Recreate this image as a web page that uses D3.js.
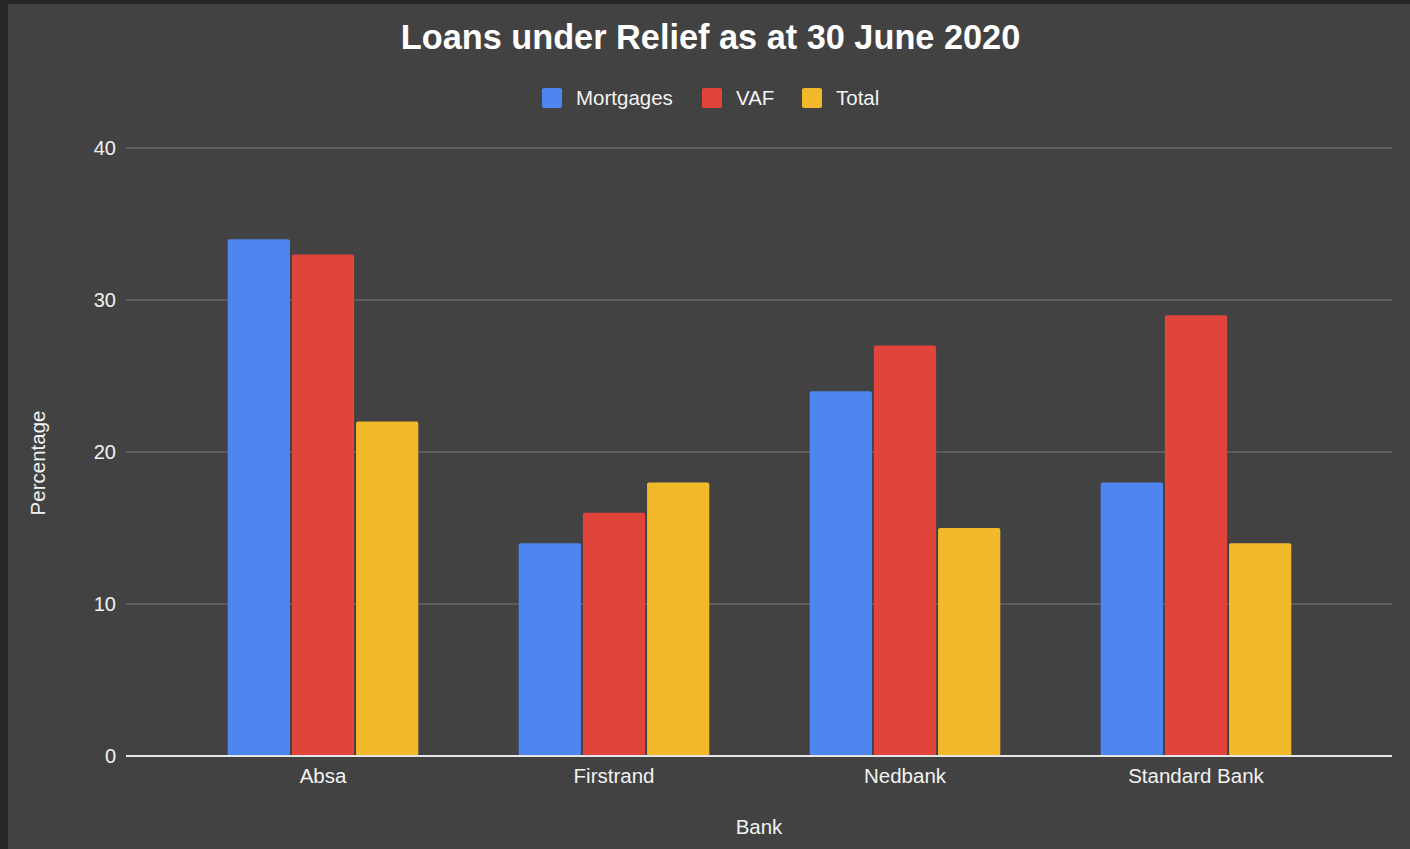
<!DOCTYPE html>
<html>
<head>
<meta charset="utf-8">
<script src="https://cdn.jsdelivr.net/npm/d3@7"></script>
<style>
  body { margin: 0; background: #262626; }
  svg { display: block; }
  text { font-family: "Liberation Sans", Arial, sans-serif; }
</style>
</head>
<body>
<div class="canvas"></div>
<script>
// data
const banks = ['Absa', 'Firstrand', 'Nedbank', 'Standard Bank'];
const seriesNames = ['Mortgages', 'VAF', 'Total'];
const mortgages = [34, 14, 24, 18];
const vaf = [33, 16, 27, 29];
const total = [22, 18, 15, 14];
const yTicks = [0, 10, 20, 30, 40];
const colors = ['#4e86f0', '#e0443a', '#f2b92b'];

const data = banks.map((b, i) => ({ bank: b, values: [mortgages[i], vaf[i], total[i]] }));

const width = 1410, height = 849;

const svg = d3.select('.canvas')
    .append('svg')
    .attr('width', width)
    .attr('height', height);

// chart panel
svg.append('rect')
    .attr('x', 8).attr('y', 4)
    .attr('width', width - 8).attr('height', height - 4)
    .attr('fill', '#424242');

const y = d3.scaleLinear()
    .domain([0, 40])
    .range([756, 148]);

const x = d3.scaleBand()
    .domain(banks)
    .range([177.5, 1341.5])
    .paddingInner(0.345)
    .paddingOuter(0.1725);

const xInner = d3.scaleBand()
    .domain(seriesNames)
    .range([0, x.bandwidth()])
    .paddingInner(0.03);

// gridlines
svg.append('g')
    .selectAll('line')
    .data(yTicks.filter(d => d > 0))
    .enter()
    .append('line')
    .attr('x1', 126).attr('x2', 1392)
    .attr('y1', d => y(d)).attr('y2', d => y(d))
    .attr('stroke', '#777')
    .attr('stroke-width', 1);

// y labels
const yAxis = d3.axisLeft(y).tickValues(yTicks).tickSize(0).tickPadding(0);
const yAxisGroup = svg.append('g')
    .attr('transform', 'translate(116,0)')
    .call(yAxis);
yAxisGroup.select('.domain').remove();
yAxisGroup.selectAll('text')
    .attr('fill', '#f2f2f2')
    .attr('font-size', 20)
    .attr('font-family', '"Liberation Sans", Arial, sans-serif');

// bars
const groups = svg.append('g')
    .selectAll('g')
    .data(data)
    .enter()
    .append('g')
    .attr('transform', d => `translate(${x(d.bank)},0)`);

groups.selectAll('rect')
    .data(d => d.values.map((v, i) => ({ name: seriesNames[i], value: v, i })))
    .enter()
    .append('rect')
    .attr('x', d => xInner(d.name))
    .attr('y', d => y(d.value))
    .attr('width', xInner.bandwidth())
    .attr('height', d => y(0) - y(d.value))
    .attr('rx', 2)
    .attr('fill', d => colors[d.i]);

// baseline
svg.append('line')
    .attr('x1', 126).attr('x2', 1392)
    .attr('y1', y(0)).attr('y2', y(0))
    .attr('stroke', '#e6e6e6')
    .attr('stroke-width', 2);

// x labels
const xAxis = d3.axisBottom(x).tickSize(0).tickPadding(0);
const xAxisGroup = svg.append('g')
    .attr('transform', `translate(0, ${y(0)})`)
    .call(xAxis);
xAxisGroup.select('.domain').remove();
xAxisGroup.selectAll('text')
    .attr('dy', 27)
    .attr('fill', '#f2f2f2')
    .attr('font-size', 20.5)
    .attr('font-family', '"Liberation Sans", Arial, sans-serif');

// title
svg.append('text')
    .attr('x', 710.5).attr('y', 49)
    .attr('text-anchor', 'middle')
    .attr('font-size', 34.3)
    .attr('font-weight', 'bold')
    .attr('fill', '#fff')
    .text('Loans under Relief as at 30 June 2020');

// legend
const legendX = [542, 702, 802];
const legend = svg.append('g')
    .selectAll('g')
    .data(seriesNames)
    .enter()
    .append('g')
    .attr('transform', (d, i) => `translate(${legendX[i]},88)`);

legend.append('rect')
    .attr('width', 20).attr('height', 20)
    .attr('rx', 2)
    .attr('fill', (d, i) => colors[i]);

legend.append('text')
    .attr('x', 34).attr('y', 17)
    .attr('font-size', 20.5)
    .attr('fill', '#f2f2f2')
    .text(d => d);

// axis titles
svg.append('text')
    .attr('x', 759).attr('y', 834)
    .attr('text-anchor', 'middle')
    .attr('font-size', 20.5)
    .attr('fill', '#f2f2f2')
    .text('Bank');

svg.append('text')
    .attr('transform', 'translate(45,463) rotate(-90)')
    .attr('text-anchor', 'middle')
    .attr('font-size', 20.5)
    .attr('fill', '#f2f2f2')
    .text('Percentage');
</script>
</body>
</html>
